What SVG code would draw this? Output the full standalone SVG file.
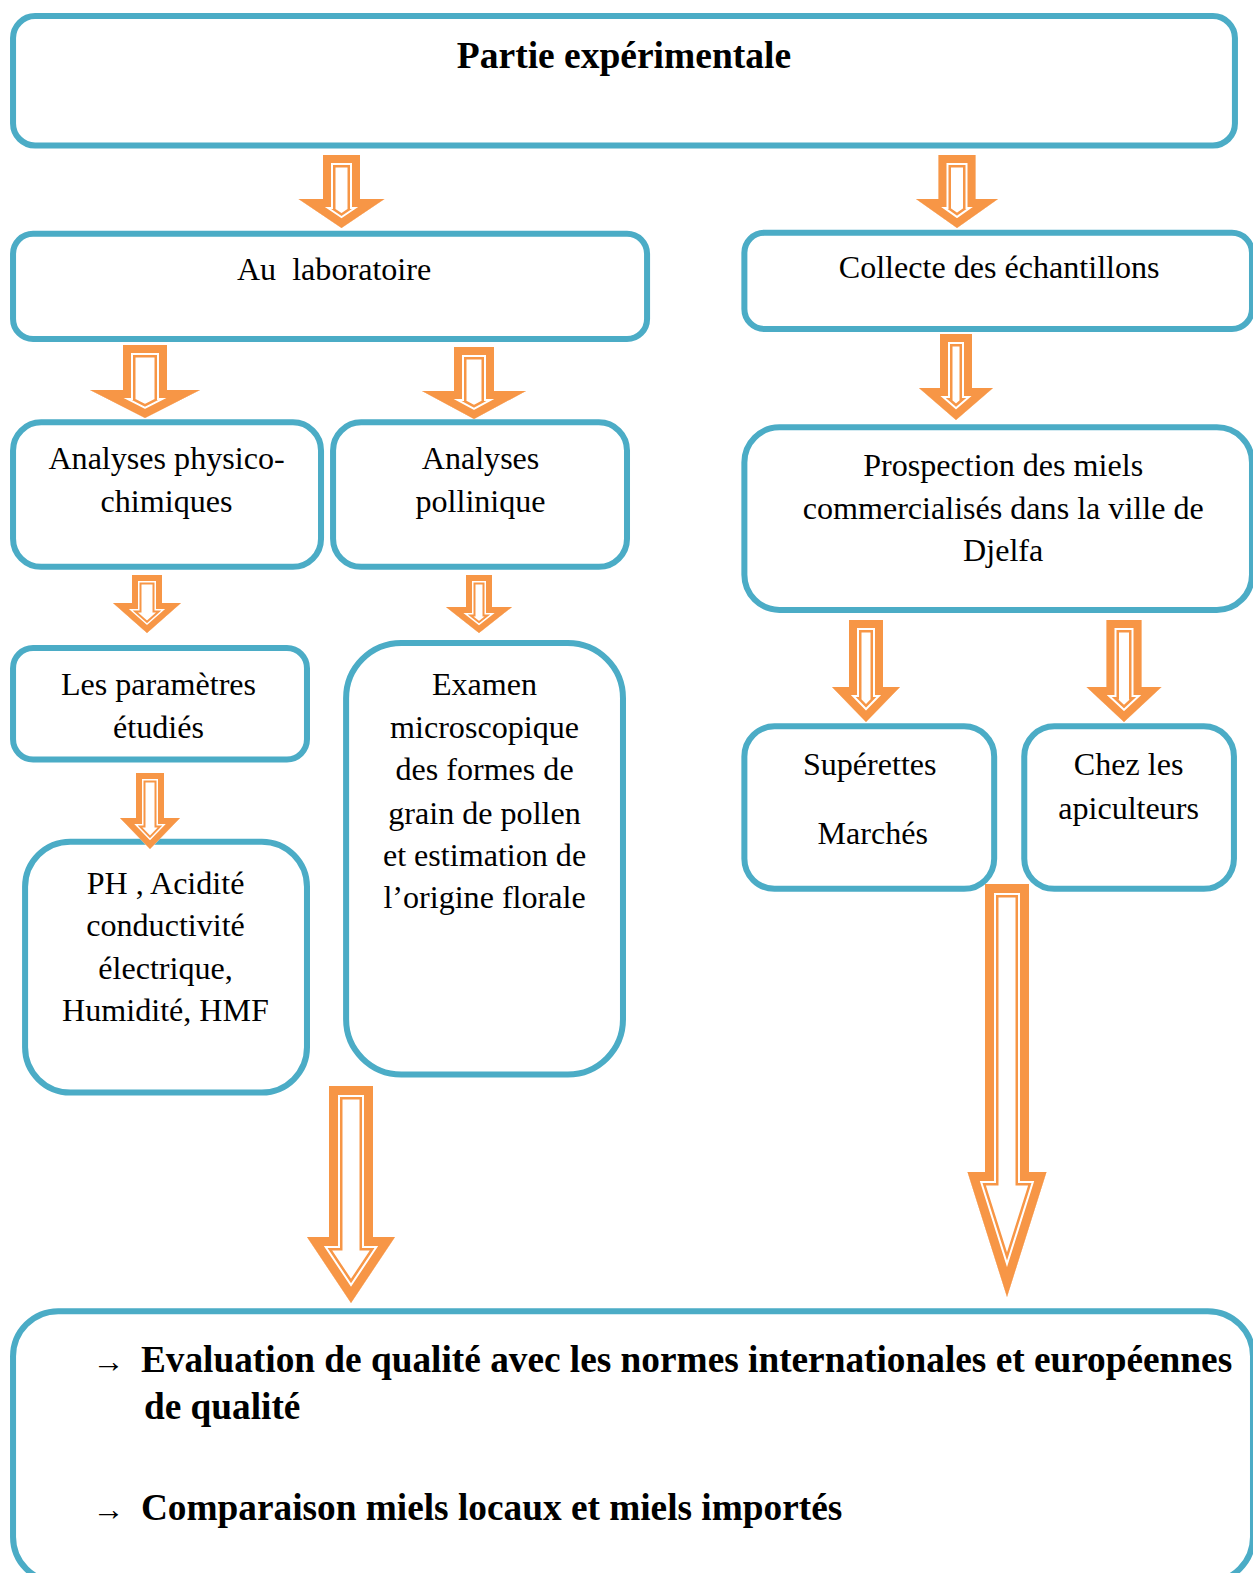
<svg xmlns="http://www.w3.org/2000/svg" xmlns:xlink="http://www.w3.org/1999/xlink" width="1253" height="1573" viewBox="0 0 1253 1573">
<style>
.box{fill:#fff;stroke:#4BACC6;stroke-width:6}
.t{font-family:"Liberation Serif","Times New Roman",serif;font-size:32px;fill:#000;text-anchor:middle}
.b{font-family:"Liberation Serif","Times New Roman",serif;font-size:37.2px;font-weight:bold;fill:#000}
.ar{font-family:"Liberation Serif","Times New Roman",serif;font-size:32px;fill:#000}
.fw{fill:#fff;stroke:none}
.o1,.o2,.o3{fill:none;stroke-linejoin:miter;stroke-miterlimit:20}
.o1{stroke:#F79646}.o2{stroke:#fff}.o3{stroke:#F79646}
.m .o1{stroke-width:25}.m .o2{stroke-width:20}.m .o3{stroke-width:16}
.s .o1{stroke-width:19}.s .o2{stroke-width:15}.s .o3{stroke-width:12}
.g .o1{stroke-width:27}.g .o2{stroke-width:22}.g .o3{stroke-width:18}
</style>
<defs>
<polygon id="a1" points="323,155 360,155 360,199 384.5,199 341.5,228 298.5,199 323,199"/>
<polygon id="a2" points="938.5,155 975.5,155 975.5,199 998,199 957,228 916,199 938.5,199"/>
<polygon id="a3" points="123,345 167,345 167,390 200,390 145,418 90,390 123,390"/>
<polygon id="a4" points="454,347 494,347 494,391 526,391 474,419 422,391 454,391"/>
<polygon id="a5" points="940,334 972,334 972,388 993,388 956,420 919,388 940,388"/>
<polygon id="a6" points="132,575 162,575 162,603 181,603 147,633 113,603 132,603"/>
<polygon id="a7" points="466,575 492,575 492,607 512,607 479,633 446,607 466,607"/>
<polygon id="a8" points="136,773 164,773 164,818 180,818 150,849 120,818 136,818"/>
<polygon id="a9" points="849,620 883,620 883,687 900,687 866,722 832,687 849,687"/>
<polygon id="a10" points="1106.5,620 1141.5,620 1141.5,687 1161.5,687 1124,722 1086.5,687 1106.5,687"/>
<polygon id="a11" points="329,1086 373,1086 373,1237 395,1237 351,1303 307,1237 329,1237"/>
<polygon id="a12" points="985,884 1029,884 1029,1172 1046.5,1172 1007,1297 967.5,1172 985,1172"/>
<clipPath id="c1"><use href="#a1"/></clipPath>
<clipPath id="c2"><use href="#a2"/></clipPath>
<clipPath id="c3"><use href="#a3"/></clipPath>
<clipPath id="c4"><use href="#a4"/></clipPath>
<clipPath id="c5"><use href="#a5"/></clipPath>
<clipPath id="c6"><use href="#a6"/></clipPath>
<clipPath id="c7"><use href="#a7"/></clipPath>
<clipPath id="c8"><use href="#a8"/></clipPath>
<clipPath id="c9"><use href="#a9"/></clipPath>
<clipPath id="c10"><use href="#a10"/></clipPath>
<clipPath id="c11"><use href="#a11"/></clipPath>
<clipPath id="c12"><use href="#a12"/></clipPath>
</defs>
<rect width="1253" height="1573" fill="#fff"/>

<g id="nodes" transform="scale(1.0032)">
<g id="n-partie">
<rect class="box" x="13" y="16" width="1218" height="129" rx="22"/>
<text class="b" x="622" y="68" text-anchor="middle" style="font-size:37.4px">Partie expérimentale</text>
</g>
<g id="n-labo">
<rect class="box" x="13" y="233" width="632" height="105" rx="20"/>
<text class="t" x="333" y="279" xml:space="preserve">Au  laboratoire</text>
</g>
<g id="n-collecte">
<rect class="box" x="742" y="232" width="506" height="96" rx="20"/>
<text class="t" x="996" y="277">Collecte des échantillons</text>
</g>
<g id="n-physico">
<rect class="box" x="13" y="421" width="307" height="144" rx="28"/>
<text class="t" x="166" y="468">Analyses physico-</text>
<text class="t" x="166" y="510">chimiques</text>
</g>
<g id="n-pollinique">
<rect class="box" x="332" y="421" width="293" height="144" rx="28"/>
<text class="t" x="479" y="468">Analyses</text>
<text class="t" x="479" y="510">pollinique</text>
</g>
<g id="n-prospection">
<rect class="box" x="742" y="426" width="506" height="182" rx="35"/>
<text class="t" x="1000" y="474">Prospection des miels</text>
<text class="t" x="1000" y="517">commercialisés dans la ville de</text>
<text class="t" x="1000" y="559">Djelfa</text>
</g>
<g id="n-parametres">
<rect class="box" x="13" y="646" width="293" height="111" rx="20"/>
<text class="t" x="158" y="693">Les paramètres</text>
<text class="t" x="158" y="736">étudiés</text>
</g>
<g id="n-examen">
<rect class="box" x="345" y="641" width="276" height="430" rx="55"/>
<text class="t" x="483" y="693">Examen</text>
<text class="t" x="483" y="736">microscopique</text>
<text class="t" x="483" y="778">des formes de</text>
<text class="t" x="483" y="821">grain de pollen</text>
<text class="t" x="483" y="863">et estimation de</text>
<text class="t" x="483" y="905">l’origine florale</text>
</g>
<g id="n-ph">
<rect class="box" x="25" y="839" width="281" height="250" rx="45"/>
<text class="t" x="165" y="891">PH , Acidité</text>
<text class="t" x="165" y="933">conductivité</text>
<text class="t" x="165" y="976">électrique,</text>
<text class="t" x="165" y="1018">Humidité, HMF</text>
</g>
<g id="n-superettes">
<rect class="box" x="742" y="724" width="249" height="162" rx="30"/>
<text class="t" x="867" y="773">Supérettes</text>
<text class="t" x="870" y="841">Marchés</text>
</g>
<g id="n-apiculteurs">
<rect class="box" x="1021" y="724" width="209" height="162" rx="30"/>
<text class="t" x="1125" y="773">Chez les</text>
<text class="t" x="1125" y="816">apiculteurs</text>
</g>
<g id="n-evaluation">
<rect class="box" x="13" y="1307" width="1236" height="270" rx="45"/>
<text class="ar" x="92" y="1368">→</text>
<text class="b" x="140.5" y="1368">Evaluation de qualité avec les normes internationales et européennes</text>
<text class="b" x="143.5" y="1414">de qualité</text>
<text class="ar" x="92" y="1515">→</text>
<text class="b" x="140.5" y="1515">Comparaison miels locaux et miels importés</text>
</g>
</g>

<g id="connectors">
<g class="m" clip-path="url(#c1)"><use href="#a1" class="fw"/><use href="#a1" class="o1"/><use href="#a1" class="o2"/><use href="#a1" class="o3"/></g>
<g class="m" clip-path="url(#c2)"><use href="#a2" class="fw"/><use href="#a2" class="o1"/><use href="#a2" class="o2"/><use href="#a2" class="o3"/></g>
<g class="m" clip-path="url(#c3)"><use href="#a3" class="fw"/><use href="#a3" class="o1"/><use href="#a3" class="o2"/><use href="#a3" class="o3"/></g>
<g class="m" clip-path="url(#c4)"><use href="#a4" class="fw"/><use href="#a4" class="o1"/><use href="#a4" class="o2"/><use href="#a4" class="o3"/></g>
<g class="m" clip-path="url(#c5)"><use href="#a5" class="fw"/><use href="#a5" class="o1"/><use href="#a5" class="o2"/><use href="#a5" class="o3"/></g>
<g class="s" clip-path="url(#c6)"><use href="#a6" class="fw"/><use href="#a6" class="o1"/><use href="#a6" class="o2"/><use href="#a6" class="o3"/></g>
<g class="s" clip-path="url(#c7)"><use href="#a7" class="fw"/><use href="#a7" class="o1"/><use href="#a7" class="o2"/><use href="#a7" class="o3"/></g>
<g class="s" clip-path="url(#c8)"><use href="#a8" class="fw"/><use href="#a8" class="o1"/><use href="#a8" class="o2"/><use href="#a8" class="o3"/></g>
<g class="m" clip-path="url(#c9)"><use href="#a9" class="fw"/><use href="#a9" class="o1"/><use href="#a9" class="o2"/><use href="#a9" class="o3"/></g>
<g class="m" clip-path="url(#c10)"><use href="#a10" class="fw"/><use href="#a10" class="o1"/><use href="#a10" class="o2"/><use href="#a10" class="o3"/></g>
<g class="g" clip-path="url(#c11)"><use href="#a11" class="fw"/><use href="#a11" class="o1"/><use href="#a11" class="o2"/><use href="#a11" class="o3"/></g>
<g class="g" clip-path="url(#c12)"><use href="#a12" class="fw"/><use href="#a12" class="o1"/><use href="#a12" class="o2"/><use href="#a12" class="o3"/></g>
</g>
</svg>
